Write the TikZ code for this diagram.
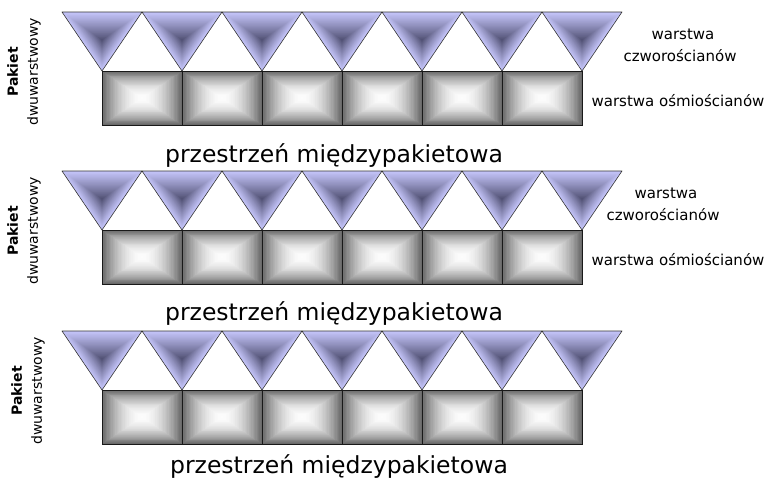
\documentclass[tikz,border=0pt]{standalone}
\usepackage{fontspec}
\setmainfont{DejaVu Sans}

\definecolor{tetlight}{HTML}{C6C6FB}
\definecolor{tetdark}{HTML}{4C4C6E}
\definecolor{octedge}{HTML}{6A6A6A}
\definecolor{octcentre}{HTML}{FCFCFC}

\tikzset{
  gap label/.style={font=\fontsize{23.5}{28}\selectfont, anchor=base, inner sep=0pt},
  layer label/.style={font=\fontsize{15}{20}\selectfont, anchor=base, inner sep=0pt},
  pack label/.style={rotate=90, align=center, inner sep=0pt,
                     font=\fontsize{14}{20}\selectfont},
  tet outline/.style={draw=black!80, line width=0.6pt, line join=round},
  oct outline/.style={draw=black!90, line width=1pt},
}

% one tetrahedron seen edge-on: nested triangles shaded towards a dark core
\newcommand\tetra[2]{%
  \foreach \s in {0,...,29}{%
    \pgfmathsetmacro\fr{1-\s/30}%
    \pgfmathtruncatemacro\pc{round(100*\fr^0.9)}%
    \fill[tetlight!\pc!tetdark, shift={(#1,#2)}, scale=\fr]
      (-40,-28) -- (40,-28) -- (0,31) -- cycle;
  }%
  \draw[tet outline, shift={(#1,#2)}] (-40,-28) -- (40,-28) -- (0,31) -- cycle;
}

% one octahedron: nested rectangles shaded towards a light centre
\newcommand\octa[2]{%
  \foreach \s in {0,...,29}{%
    \pgfmathsetmacro\fr{1-\s/30}%
    \pgfmathtruncatemacro\pc{round(100*\fr^1.9)}%
    \fill[octedge!\pc!octcentre, shift={(#1,#2)}, scale=\fr]
      (-40,-27) rectangle (40,27);
  }%
  \draw[oct outline, shift={(#1,#2)}] (-40,-27) rectangle (40,27);
}

% a two-sheet packet; #1 = top edge of the tetrahedral sheet
\newcommand\claypack[1]{%
  \foreach \k in {0,...,6}{\tetra{102+80*\k}{#1+28}}%
  \foreach \k in {0,...,5}{\octa{142+80*\k}{#1+86}}%
}

\begin{document}
\begin{tikzpicture}[x=1pt,y=-1pt]
  \useasboundingbox (0,0) rectangle (774,479);

  % three stacked packets
  \claypack{12}
  \claypack{171}
  \claypack{331}

  % interlayer spaces
  \node[gap label] (gap1) at (334,162) {przestrzeń międzypakietowa};
  \node[gap label] (gap2) at (334,320) {przestrzeń międzypakietowa};
  \node[gap label] (gap3) at (339,473) {przestrzeń międzypakietowa};

  % packet captions on the left
  \node[pack label] (pack1) at (24,72)  {{\bfseries Pakiet}\\dwuwarstwowy};
  \node[pack label] (pack2) at (24,231) {{\bfseries Pakiet}\\dwuwarstwowy};
  \node[pack label] (pack3) at (28,391) {{\bfseries Pakiet}\\dwuwarstwowy};

  % sheet names on the right
  \node[layer label] (tetA1) at (683,39)  {warstwa};
  \node[layer label] (tetB1) at (680,61)  {czworościanów};
  \node[layer label] (oct1)  at (678,106) {warstwa ośmiościanów};

  \node[layer label] (tetA2) at (666,198) {warstwa};
  \node[layer label] (tetB2) at (663,220) {czworościanów};
  \node[layer label] (oct2)  at (678,265) {warstwa ośmiościanów};
\end{tikzpicture}
\end{document}
